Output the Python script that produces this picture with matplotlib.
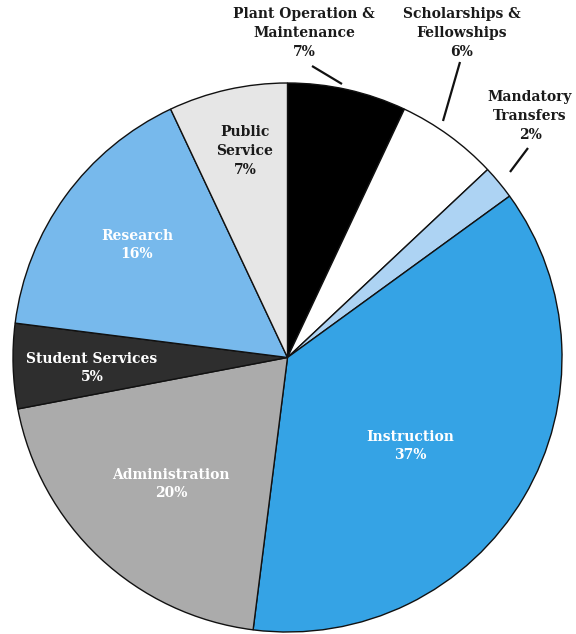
import matplotlib
matplotlib.use("Agg")
import matplotlib.pyplot as plt

categories = ["Plant Operation &\nMaintenance", "Scholarships &\nFellowships", "Mandatory\nTransfers",
              "Instruction", "Administration", "Student Services", "Research", "Public\nService"]
values = [7, 6, 2, 37, 20, 5, 16, 7]
colors = ["#000000", "#FFFFFF", "#ADD3F3", "#35A3E5", "#ABABAB", "#2E2E2E", "#77B9EC", "#E6E6E6"]
text_colors = ["#1a1a1a", "#1a1a1a", "#1a1a1a", "white", "white", "white", "white", "#1a1a1a"]

# layout (pixel positions, top-left origin)
W, H = 576, 634
label_pos = [(304, 33), (462, 33), (530, 116), (410, 446), (171, 484), (92, 368), (137, 245), (245, 151)]
leaders = [((312, 66), (342, 84)), ((460, 62), (443, 121)), ((528, 148), (510, 172))]

fig = plt.figure(figsize=(W / 100, H / 100), dpi=100)
ax = fig.add_axes([0, 0, 1, 1])

cx, cy, r = 287.5, H - 357.5, 274.5
ax.pie(values, colors=colors, startangle=90, counterclock=False, center=(cx, cy), radius=r,
       wedgeprops=dict(edgecolor="#111111", linewidth=1.0), frame=True)
ax.set_xlim(0, W)
ax.set_ylim(0, H)
ax.set_aspect("equal")
ax.axis("off")

font = dict(family="DejaVu Serif", weight="bold", fontsize=10, ha="center", va="center", linespacing=1.45)
for cat, v, (px, py), tc in zip(categories, values, label_pos, text_colors):
    ax.text(px, H - py, f"{cat}\n{v}%", color=tc, **font)

for (x0, y0), (x1, y1) in leaders:
    ax.plot([x0, x1], [H - y0, H - y1], color="#111111", lw=1.6, solid_capstyle="butt")

fig.savefig("out.png", dpi=100)
